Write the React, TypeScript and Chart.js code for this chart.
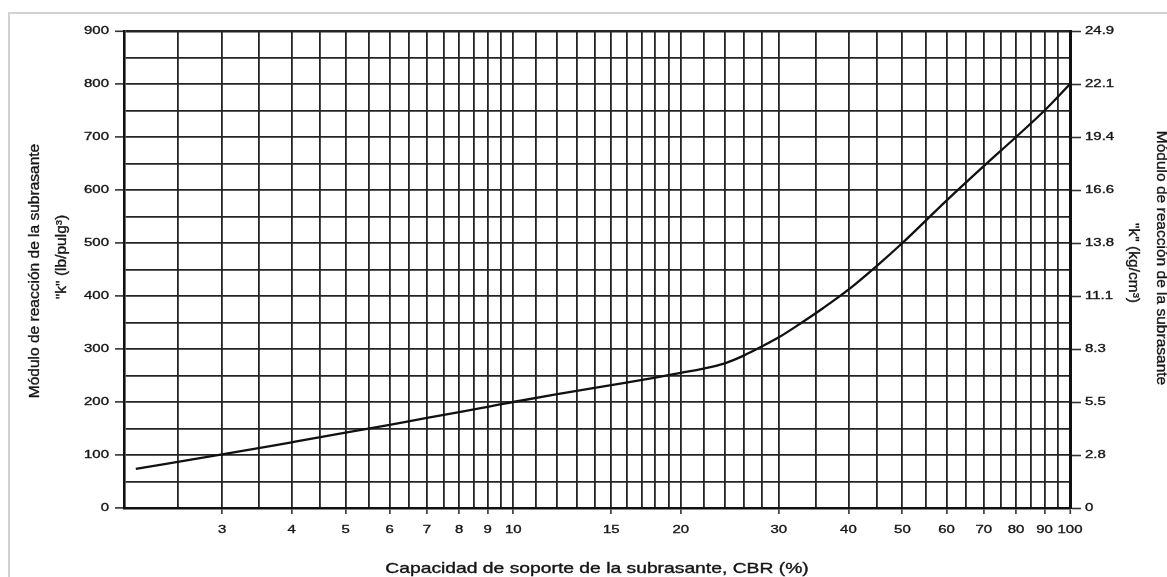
import React, { useEffect, useRef } from 'react';
import { Chart, registerables } from 'chart.js';

Chart.register(...registerables);

// CBR (%) vs modulus of subgrade reaction k (lb/in³)
const cbrValues = [2.1, 3, 4, 5, 6, 7, 8, 9, 10, 12, 15, 18, 20, 22, 24, 26, 28, 30, 33, 36, 40, 45, 50, 60, 70, 80, 90, 100];
const kValues = [74, 101, 124, 142, 157, 170, 181, 191, 200, 215, 232, 246, 255, 263, 273, 288, 305, 322, 350, 377, 412, 457, 500, 580, 645, 700, 750, 800];

const xGridValues = [
  2, 2.5, 3, 3.5, 4, 4.5, 5, 5.5, 6, 6.5, 7, 7.5, 8, 8.5, 9, 9.5, 10,
  11, 12, 13, 14, 15, 16, 17, 18, 19, 20, 22, 24, 26, 28, 30,
  35, 40, 45, 50, 55, 60, 65, 70, 75, 80, 85, 90, 95, 100,
];
const xTickLabels = [3, 4, 5, 6, 7, 8, 9, 10, 15, 20, 30, 40, 50, 60, 70, 80, 90, 100];
const yGridValues = [0, 50, 100, 150, 200, 250, 300, 350, 400, 450, 500, 550, 600, 650, 700, 750, 800, 850, 900];
const yTickLabels = [0, 100, 200, 300, 400, 500, 600, 700, 800, 900];
const yRightTickLabels = ['0', '2.8', '5.5', '8.3', '11.1', '13.8', '16.6', '19.4', '22.1', '24.9'];

const xTitle = 'Capacidad de soporte de la subrasante, CBR (%)';
const yTitle1 = 'Módulo de reacción de la subrasante';
const yTitle2 = '"k" (lb/pulg³)';
const y2Title1 = 'Módulo de reacción de la subrasante';
const y2Title2 = '"k" (kg/cm³)';

const FONT = '"Liberation Sans", Arial, Helvetica, sans-serif';
const TEXT_COLOR = '#151515';
const GRID_COLOR = '#242424';

function drawText(
  ctx: CanvasRenderingContext2D,
  text: string,
  x: number,
  y: number,
  size: number,
  align: CanvasTextAlign,
  baseline: CanvasTextBaseline,
  rotation: number,
  stretch: number
) {
  ctx.save();
  ctx.translate(x, y);
  if (rotation) ctx.rotate(rotation);
  ctx.scale(stretch, 1);
  ctx.font = `${size}px ${FONT}`;
  ctx.textAlign = align;
  ctx.textBaseline = baseline;
  ctx.fillStyle = TEXT_COLOR;
  ctx.strokeStyle = TEXT_COLOR;
  ctx.lineWidth = 0.35;
  ctx.fillText(text, 0, 0);
  ctx.strokeText(text, 0, 0);
  ctx.restore();
}

const textPlugin = {
  id: 'textPlugin',
  afterDraw(chart: any) {
    const ctx: CanvasRenderingContext2D = chart.ctx;
    const xs = chart.scales.x;
    const ys = chart.scales.y;
    const area = chart.chartArea;
    const tickSize = 11.5;
    const tickStretch = 1.3;
    xTickLabels.forEach((v) => {
      drawText(ctx, String(v), xs.getPixelForValue(v), area.bottom + 21.5, tickSize, 'center', 'middle', 0, tickStretch);
    });
    yTickLabels.forEach((v, i) => {
      const py = ys.getPixelForValue(v);
      drawText(ctx, String(v), area.left - 15, py, tickSize, 'right', 'middle', 0, tickStretch);
      drawText(ctx, yRightTickLabels[i], area.right + 15, py, tickSize, 'left', 'middle', 0, tickStretch);
    });
    const cx = (area.left + area.right) / 2;
    drawText(ctx, xTitle, cx, 573, 14.5, 'center', 'alphabetic', 0, 1.33);
    drawText(ctx, yTitle1, 35, 271, 14.5, 'center', 'middle', -Math.PI / 2, 1.07);
    drawText(ctx, yTitle2, 62, 257, 14.5, 'center', 'middle', -Math.PI / 2, 1.07);
    drawText(ctx, y2Title1, 1161, 258, 14.5, 'center', 'middle', Math.PI / 2, 1.07);
    drawText(ctx, y2Title2, 1133, 263, 14.5, 'center', 'middle', Math.PI / 2, 1.07);
  },
};

export default function App() {
  const canvasRef = useRef<HTMLCanvasElement | null>(null);

  useEffect(() => {
    const canvas = canvasRef.current;
    if (!canvas) return;
    const chart = new Chart(canvas, {
      type: 'line',
      data: {
        datasets: [
          {
            data: cbrValues.map((x, i) => ({ x, y: kValues[i] })),
            borderColor: '#111',
            borderWidth: 2.3,
            pointRadius: 0,
            fill: false,
            cubicInterpolationMode: 'monotone',
          },
        ],
      },
      options: {
        responsive: false,
        animation: false,
        devicePixelRatio: 1,
        layout: { padding: { top: 31, left: 0, right: 0, bottom: 0 } },
        plugins: { legend: { display: false }, tooltip: { enabled: false } },
        scales: {
          x: {
            type: 'logarithmic',
            min: 2,
            max: 100,
            afterBuildTicks: (s: any) => {
              s.ticks = xGridValues.map((v) => ({ value: v }));
            },
            afterFit: (s: any) => {
              s.height = 69;
            },
            ticks: { display: false },
            grid: {
              color: GRID_COLOR,
              lineWidth: (c: any) => (c.tick && c.tick.value === 100 ? 2.6 : 1.8),
              tickLength: 6,
              tickWidth: 1.6,
              tickColor: (c: any) =>
                c.tick && xTickLabels.includes(c.tick.value) ? '#333' : 'rgba(0,0,0,0)',
            },
            border: { display: true, color: '#111', width: 2.6 },
          },
          y: {
            type: 'linear',
            position: 'left',
            min: 0,
            max: 900,
            afterBuildTicks: (s: any) => {
              s.ticks = yGridValues.map((v) => ({ value: v }));
            },
            afterFit: (s: any) => {
              s.width = 124;
            },
            ticks: { display: false },
            grid: {
              color: GRID_COLOR,
              lineWidth: (c: any) => (c.tick && c.tick.value === 900 ? 2.6 : 1.8),
              tickLength: 9,
              tickWidth: 1.6,
              tickColor: (c: any) =>
                c.tick && yTickLabels.includes(c.tick.value) ? '#333' : 'rgba(0,0,0,0)',
            },
            border: { display: true, color: '#111', width: 2.6 },
          },
          y2: {
            type: 'linear',
            position: 'right',
            min: 0,
            max: 900,
            afterBuildTicks: (s: any) => {
              s.ticks = yTickLabels.map((v) => ({ value: v }));
            },
            afterFit: (s: any) => {
              s.width = 97;
            },
            ticks: { display: false },
            grid: {
              drawOnChartArea: false,
              tickLength: 11,
              tickWidth: 1.6,
              tickColor: '#333',
            },
            border: { display: true, color: '#111', width: 3 },
          },
        },
      },
      plugins: [textPlugin],
    } as any);
    return () => chart.destroy();
  }, []);

  return (
    <div style={{ position: 'fixed', left: 0, top: 0, width: 1167, height: 577, overflow: 'hidden', background: '#fff' }}>
      <div
        style={{
          position: 'absolute',
          left: 8,
          top: 12,
          width: 1300,
          height: 700,
          border: '2px solid #d2d2d2',
          boxSizing: 'border-box',
        }}
      />
      <canvas
        ref={canvasRef}
        width={1167}
        height={577}
        style={{ position: 'absolute', left: 0, top: 0, width: 1167, height: 577 }}
      />
    </div>
  );
}
